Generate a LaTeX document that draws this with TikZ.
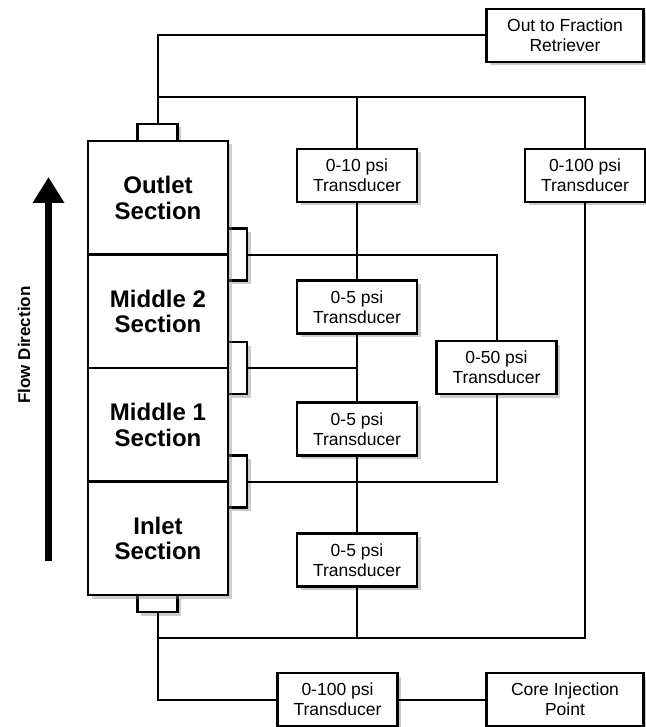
\documentclass[tikz,border=0pt]{standalone}
\usepackage{fontspec}
\setmainfont{Liberation Sans}
\usetikzlibrary{shadows,arrows.meta}
\begin{document}
\begin{tikzpicture}[x=1pt,y=-1pt,
  box/.style={draw, line width=2.4pt, fill=white,
    drop shadow={shadow xshift=3.5pt, shadow yshift=-3.5pt, opacity=0.4},
    inner sep=0pt, align=center, font=\fontsize{17.5}{20}\selectfont},
  trans/.style={box, minimum width=120pt, minimum height=53pt},
  wide/.style={box, minimum width=157pt, minimum height=53pt},
  sect/.style={box, minimum width=140pt, minimum height=113.5pt,
    font=\fontsize{24}{25.5}\selectfont\bfseries},
  porth/.style={box, minimum width=40pt, minimum height=17pt},
  portv/.style={box, minimum width=19pt, minimum height=52pt},
  conn/.style={line width=2pt}]
\useasboundingbox (0,0) rectangle (645,727);

% ports
\node[porth] (ptop) at (157.5,132.5) {};
\node[porth] (pbot) at (157.5,603.5) {};
\node[portv] (ps1) at (237.5,254.5) {};
\node[portv] (ps2) at (237.5,368) {};
\node[portv] (ps3) at (237.5,481.5) {};

% sections
\node[sect] (outlet) at (158,197.75) {Outlet\\Section};
\node[sect] (mid2) at (158,311.25) {Middle 2\\Section};
\node[sect] (mid1) at (158,424.75) {Middle 1\\Section};
\node[sect] (inlet) at (158,538.25) {Inlet\\Section};

% transducers
\node[trans] (t10) at (357,175.5) {0-10 psi\\Transducer};
\node[trans] (t5a) at (357,307) {0-5 psi\\Transducer};
\node[trans] (t5b) at (357,429) {0-5 psi\\Transducer};
\node[trans] (t5c) at (357,560) {0-5 psi\\Transducer};
\node[trans] (t100) at (585,175.5) {0-100 psi\\Transducer};
\node[trans] (t50) at (496.5,367.5) {0-50 psi\\Transducer};
\node[trans] (b100) at (337.5,699.5) {0-100 psi\\Transducer};
\node[wide] (out) at (565,35.5) {Out to Fraction\\Retriever};
\node[wide] (core) at (565,699.5) {Core Injection\\Point};

% connectors
\coordinate (j1) at (157.5,97);
\coordinate (j2) at (157.5,638);
\draw[conn] (ptop.north) |- (out.west);
\draw[conn] (j1) -| (t100.north);
\draw[conn] (t10.north) -- (t10.north |- j1);
\draw[conn] (t10.south) -- (t5a.north);
\draw[conn] (t5a.south) -- (t5b.north);
\draw[conn] (t5b.south) -- (t5c.north);
\draw[conn] (t5c.south) -- (t5c.south |- j2);
\draw[conn] (t100.south) |- (j2);
\draw[conn] (pbot.south) |- (b100.west);
\draw[conn] (b100.east) -- (core.west);
\draw[conn] (ps1.east) -| (t50.north);
\draw[conn] (ps3.east) -| (t50.south);
\draw[conn] (ps2.east) -- (ps2.east -| t10.south);

% flow arrow
\coordinate (fa) at (48.5,561);
\coordinate (fb) at (48.5,177);
\draw[line width=7.5pt, -{Triangle[width=30pt,length=26pt]}] (fa) -- (fb);
\node[rotate=90, font=\fontsize{17}{20}\selectfont\bfseries] (flow) at (24,345) {Flow Direction};
\end{tikzpicture}
\end{document}
